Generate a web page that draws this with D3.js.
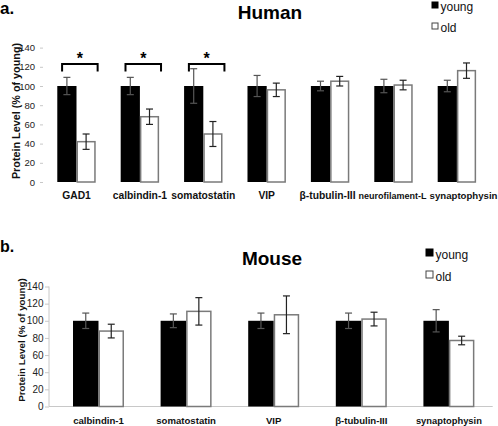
<!DOCTYPE html>
<html><head><meta charset="utf-8">
<script src="https://cdn.jsdelivr.net/npm/d3@7"></script>
<style>
html,body{margin:0;padding:0;background:#fff;}
svg{display:block;font-family:"Liberation Sans",Arial,sans-serif;}
</style></head>
<body>
<svg id="chart" width="498" height="426"></svg>
<script>
// ---- data ----
const seriesNames = ["young", "old"];
const yTicks = [0, 20, 40, 60, 80, 100, 120, 140];

const humanCats = ["GAD1", "calbindin-1", "somatostatin", "VIP", "β-tubulin-III", "neurofilament-L", "synaptophysin"];
const humanYoung = [100, 100, 100, 100, 100, 100, 100];
const humanYoungErr = [9, 9, 18, 11, 5, 7, 6];
const humanOld = [42, 68, 50, 96, 105, 101, 116];
const humanOldErr = [8, 8, 13, 7, 5, 5, 8];
const humanSig = [true, true, true, false, false, false, false];

const mouseCats = ["calbindin-1", "somatostatin", "VIP", "β-tubulin-III", "synaptophysin"];
const mouseYoung = [100, 100, 100, 100, 100];
const mouseYoungErr = [9, 8, 9, 9, 13];
const mouseOld = [88, 111, 107, 102, 77];
const mouseOldErr = [8, 16, 22, 8, 5];

const svg = d3.select("#chart");

function panel(cfg) {
  const g = svg.append("g");
  const x = d3.scaleBand().domain(cfg.cats).range(cfg.xRange).padding(0);
  const x1 = d3.scaleBand().domain(seriesNames)
    .range([x.bandwidth() * cfg.inner, x.bandwidth() * (1 - cfg.inner)]).padding(0);
  const y = d3.scaleLinear().domain([0, 140]).range(cfg.yRange);

  // axes
  if (cfg.axisLines) {
    g.append("line").attr("x1", cfg.axisX).attr("x2", cfg.axisX)
      .attr("y1", y(140)).attr("y2", y(0)).attr("stroke", "#c8c8c8").attr("stroke-width", 1);
    g.append("line").attr("x1", cfg.axisX).attr("x2", cfg.xRange[1])
      .attr("y1", y(0)).attr("y2", y(0)).attr("stroke", "#c8c8c8").attr("stroke-width", 1);
  }
  const yAxis = d3.axisLeft(y).tickValues(yTicks).tickSize(cfg.tickLen).tickPadding(cfg.tickPad);
  const ya = g.append("g").attr("transform", `translate(${cfg.axisX},0)`).call(yAxis);
  ya.select(".domain").remove();
  ya.selectAll(".tick line").attr("stroke", "#c8c8c8");
  ya.selectAll(".tick text").attr("font-size", cfg.tickFont).attr("fill", "#222")
    .attr("font-family", "Liberation Sans, Arial, sans-serif");

  // y title
  g.append("text")
    .attr("transform", `translate(${cfg.yTitleX},${cfg.yTitleY}) rotate(-90)`)
    .attr("text-anchor", "middle").attr("font-weight", "bold")
    .attr("font-size", cfg.yTitleFont).attr("fill", "#111")
    .text("Protein Level (% of young)");

  const rows = cfg.cats.map((c, i) => ({
    cat: c,
    vals: [
      { s: "young", v: cfg.young[i], e: cfg.youngErr[i] },
      { s: "old", v: cfg.old[i], e: cfg.oldErr[i] }
    ]
  }));

  const grp = g.selectAll(".grp").data(rows).join("g")
    .attr("transform", d => `translate(${x(d.cat)},0)`);

  grp.selectAll("rect").data(d => d.vals).join("rect")
    .attr("x", d => x1(d.s) + (d.s === "old" ? 0.75 : 0))
    .attr("width", d => x1.bandwidth() - (d.s === "old" ? 1.5 : 0))
    .attr("y", d => y(d.v))
    .attr("height", d => y(0) - y(d.v))
    .attr("fill", d => d.s === "young" ? "#000" : "#fff")
    .attr("stroke", d => d.s === "young" ? "none" : "#7a7a7a")
    .attr("stroke-width", 1.5);

  const eb = grp.selectAll(".eb").data(d => d.vals).join("g").attr("class", "eb")
    .attr("stroke", d => d.s === "young" ? "#555" : "#222").attr("stroke-width", 1.2);
  const cx = d => x1(d.s) + x1.bandwidth() / 2;
  eb.append("line").attr("x1", cx).attr("x2", cx)
    .attr("y1", d => y(d.v + d.e)).attr("y2", d => y(d.v - d.e));
  eb.append("line").attr("x1", d => cx(d) - cfg.cap).attr("x2", d => cx(d) + cfg.cap)
    .attr("y1", d => y(d.v + d.e)).attr("y2", d => y(d.v + d.e));
  eb.append("line").attr("x1", d => cx(d) - cfg.cap).attr("x2", d => cx(d) + cfg.cap)
    .attr("y1", d => y(d.v - d.e)).attr("y2", d => y(d.v - d.e));

  // significance brackets
  if (cfg.sig) {
    const sg = grp.filter((d, i) => cfg.sig[i]);
    const bw = x1.bandwidth();
    const bx0 = x1("young") + bw * 0.25, bx1 = x1("old") + bw * 1.1;
    sg.append("path")
      .attr("d", `M${bx0},${y(115)}V${y(123)}H${bx1}V${y(115)}`)
      .attr("fill", "none").attr("stroke", "#000").attr("stroke-width", 2);
    sg.append("text").attr("x", (bx0 + bx1) / 2).attr("y", y(123) + 0.5)
      .attr("text-anchor", "middle").attr("font-weight", "bold").attr("font-size", 16)
      .text("*");
  }

  // category labels: shrink long labels, then resolve overlaps
  const labs = g.selectAll(".lab").data(cfg.cats).join("text")
    .attr("x", d => x(d) + x.bandwidth() / 2).attr("y", cfg.labelY)
    .attr("text-anchor", "middle").attr("font-weight", "bold")
    .attr("font-size", cfg.labelFont).attr("fill", "#111").text(d => d);
  const boxes = [];
  labs.each(function () {
    let w = this.getComputedTextLength();
    if (w > cfg.labelMax) {
      const fs = cfg.labelFont * cfg.labelMax / w;
      this.setAttribute("font-size", fs);
      w = this.getComputedTextLength();
    }
    boxes.push({ el: this, c: +this.getAttribute("x"), w });
  });
  for (let i = 1; i < boxes.length; i++) {
    const prevEnd = boxes[i - 1].c + boxes[i - 1].w / 2;
    const start = boxes[i].c - boxes[i].w / 2;
    if (start < prevEnd + 3) boxes[i].c += prevEnd + 3 - start;
  }
  for (let i = boxes.length - 1; i >= 0; i--) {
    const lim = i === boxes.length - 1 ? 497.5 : boxes[i + 1].c - boxes[i + 1].w / 2 - 3;
    if (boxes[i].c + boxes[i].w / 2 > lim) boxes[i].c = lim - boxes[i].w / 2;
  }
  boxes.forEach(b => b.el.setAttribute("x", b.c));

  // title
  g.append("text").attr("x", cfg.titleX).attr("y", cfg.titleY)
    .attr("text-anchor", "middle").attr("font-weight", "bold").attr("font-size", 19)
    .text(cfg.title);
  g.append("text").attr("x", 0).attr("y", cfg.letterY)
    .attr("font-weight", "bold").attr("font-size", cfg.letterFont).text(cfg.letter);

  // legend
  const lg = g.append("g");
  seriesNames.forEach((s, i) => {
    const yy = cfg.legY + i * cfg.legStep;
    lg.append("rect").attr("x", cfg.legX).attr("y", yy - cfg.legBox + 0.5)
      .attr("width", cfg.legBox - 1).attr("height", cfg.legBox - 1)
      .attr("fill", s === "young" ? "#000" : "#fff")
      .attr("stroke", s === "young" ? "#000" : "#444").attr("stroke-width", 1);
    lg.append("text").attr("x", cfg.legX + cfg.legBox + 1.5).attr("y", yy + 2)
      .attr("font-size", 12).attr("fill", "#111").text(s);
  });
}

panel({
  cats: humanCats, young: humanYoung, youngErr: humanYoungErr,
  old: humanOld, oldErr: humanOldErr, sig: humanSig,
  xRange: [44.8, 488.6], inner: 0.197, yRange: [182, 47.6],
  axisLines: false, axisX: 43, tickLen: 3, tickPad: 5, tickFont: 9.5,
  yTitleX: 19.5, yTitleY: 111, yTitleFont: 10.8,
  cap: 3.5, labelY: 198.5, labelFont: 10.3, labelMax: 68,
  title: "Human", titleX: 270, titleY: 19, letter: "a.", letterY: 14, letterFont: 17,
  legX: 432, legY: 8.5, legStep: 21, legBox: 7
});

panel({
  cats: mouseCats, young: mouseYoung, youngErr: mouseYoungErr,
  old: mouseOld, oldErr: mouseOldErr, sig: null,
  xRange: [54.7, 492.7], inner: 0.209, yRange: [406.5, 286.5],
  axisLines: true, axisX: 49, tickLen: 4, tickPad: 1.5, tickFont: 10,
  yTitleX: 24.5, yTitleY: 340, yTitleFont: 9.8,
  cap: 3.5, labelY: 423.5, labelFont: 9.6, labelMax: 66,
  title: "Mouse", titleX: 272, titleY: 265, letter: "b.", letterY: 252, letterFont: 16,
  legX: 426, legY: 256.5, legStep: 22, legBox: 8
});
</script>
</body></html>
